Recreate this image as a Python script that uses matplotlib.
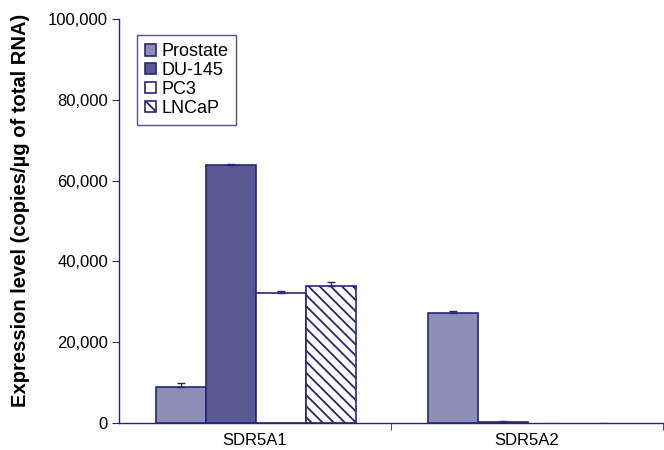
import numpy as np
import matplotlib
matplotlib.use("Agg")
import matplotlib.pyplot as plt
from matplotlib.ticker import FuncFormatter

plt.rcParams['font.family'] = ['Liberation Sans', 'DejaVu Sans']
plt.rcParams['hatch.linewidth'] = 1.3

genes = ["SDR5A1", "SDR5A2"]
cell_lines = ["Prostate", "DU-145", "PC3", "LNCaP"]
prostate = [9000, 27200]
du145 = [63800, 300]
pc3 = [32200, 0]
lncap = [34000, 0]
prostate_err = [800, 500]
du145_err = [300, 150]
pc3_err = [400, 80]
lncap_err = [800, 80]

navy = "#262678"
fills = ["#8E8DB6", "#5A5892", "white", "white"]
hatches = [None, None, None, "\\\\\\"]
values = [prostate, du145, pc3, lncap]
errors = [prostate_err, du145_err, pc3_err, lncap_err]

fig = plt.figure(figsize=(6.64, 4.5), dpi=100)
ax = fig.add_axes([0.1792, 0.06, 0.8193, 0.898])

x = np.arange(len(genes))
w = 0.184
for i, (name, vals, errs) in enumerate(zip(cell_lines, values, errors)):
    pos = x + (i - 1.5) * w + 0.004
    lws = [1.2 if v > 0 else 0 for v in vals]
    ax.bar(pos, vals, width=w, color=fills[i], edgecolor=navy, linewidth=lws,
           hatch=hatches[i], label=name, zorder=2)
    for p, v, e in zip(pos, vals, errs):
        alpha = 1.0 if v > 0 else 0.35
        ax.errorbar([p], [v], yerr=[[0], [e]], fmt="none", ecolor=navy,
                    elinewidth=1.0, capsize=3, capthick=1.0, alpha=alpha, zorder=3)

ax.set_xlim(-0.5, 1.5)
ax.set_ylim(0, 100000)
ax.set_yticks(np.arange(0, 100001, 20000))
ax.yaxis.set_major_formatter(FuncFormatter(lambda v, p: f"{int(v):,}"))
ax.set_xticks(x)
ax.set_xticklabels(genes)
ax.set_xticks([0.5, 1.5], minor=True)
ax.tick_params(axis="x", which="major", length=0, pad=7, labelsize=12, labelcolor="black")
ax.tick_params(axis="x", which="minor", length=5, color=navy, direction="out")
ax.tick_params(axis="y", length=5, color=navy, direction="out", labelsize=12, pad=3)

for side in ["top", "right"]:
    ax.spines[side].set_visible(False)
for side in ["left", "bottom"]:
    ax.spines[side].set_color(navy)
    ax.spines[side].set_linewidth(1.0)

ax.set_ylabel("Expression level (copies/µg of total RNA)", fontsize=14.5,
              fontweight="bold", labelpad=8)
ax.yaxis.set_label_coords(-0.164, 0.527)

leg = ax.legend(loc="upper left", bbox_to_anchor=(0.033, 0.960), fontsize=13,
                frameon=True, fancybox=False, edgecolor=navy, handlelength=0.6,
                handleheight=0.6, handletextpad=0.3, labelspacing=0.1,
                borderpad=0.45, borderaxespad=0)
leg.get_frame().set_linewidth(1.0)

fig.savefig("out.png", dpi=100)
